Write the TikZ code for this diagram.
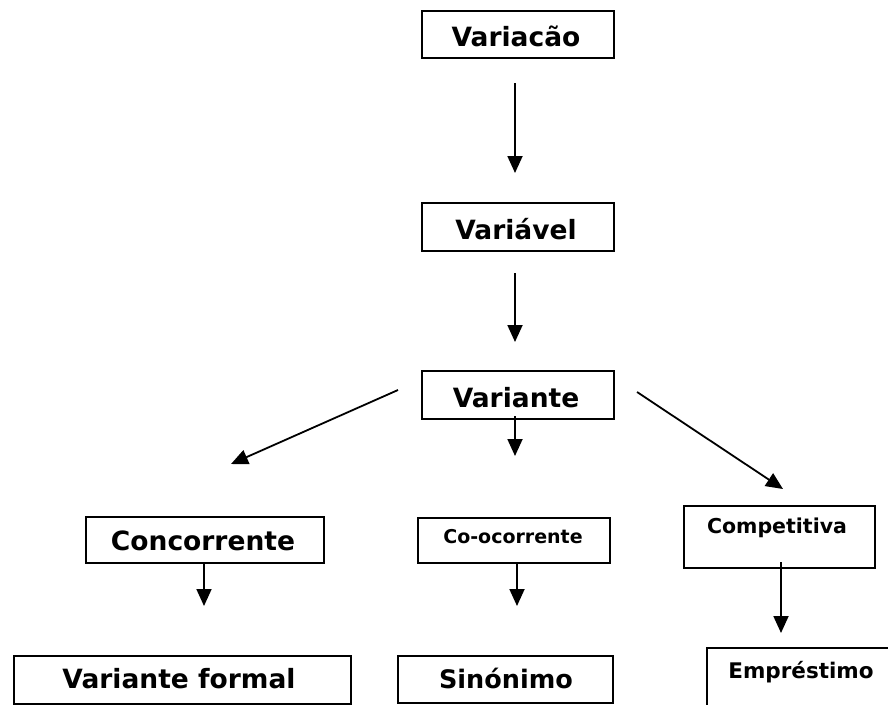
\documentclass[tikz,border=0pt]{standalone}
\usepackage{fontspec}
\setmainfont{DejaVu Sans}
\usetikzlibrary{arrows.meta}
\begin{document}
\begin{tikzpicture}[x=1pt,y=-1pt,
  box/.style={draw,line width=2pt,inner sep=0pt,anchor=north west},
  lbl/.style={anchor=base,inner sep=0pt,font=\bfseries\fontsize{#1}{#1}\selectfont},
  arr/.style={line width=1.8pt,-{Triangle[length=17pt,width=15pt]}}]
\useasboundingbox (0,0) rectangle (888,704);
\clip (0,0) rectangle (888,704);
% boxes
\node[box,minimum width=192pt,minimum height=47pt] (b1) at (421,10) {};
\node[box,minimum width=192pt,minimum height=48pt] (b2) at (421,202) {};
\node[box,minimum width=192pt,minimum height=48pt] (b3) at (421,370) {};
\node[box,minimum width=238pt,minimum height=46pt] (b4) at (85,516) {};
\node[box,minimum width=192pt,minimum height=45pt] (b5) at (417,517) {};
\node[box,minimum width=191pt,minimum height=62pt] (b6) at (683,505) {};
\node[box,minimum width=337pt,minimum height=48pt] (b7) at (13,655) {};
\node[box,minimum width=215pt,minimum height=47pt] (b8) at (397,655) {};
\node[box,minimum width=200pt,minimum height=80pt] (b9) at (706,647) {};
% labels
\node[lbl=26.5] (t1) at (516,46) {Variacão};
\node[lbl=26.5] (t2) at (516,239) {Variável};
\node[lbl=26.5] (t3) at (516,407) {Variante};
\node[lbl=26.5] (t4) at (203,550) {Concorrente};
\node[lbl=19] (t5) at (513,543) {Co-ocorrente};
\node[lbl=20.5] (t6) at (777,533) {Competitiva};
\node[lbl=26.5] (t7) at (179,688) {Variante formal};
\node[lbl=25.5] (t8) at (506,688) {Sinónimo};
\node[lbl=21.5] (t9) at (801,678) {Empréstimo};
% arrow end points
\coordinate (a1s) at (515,83);  \coordinate (a1e) at (515,173);
\coordinate (a2s) at (515,273); \coordinate (a2e) at (515,342);
\coordinate (a3s) at (515,416); \coordinate (a3e) at (515,456);
\coordinate (a4s) at (398,390); \coordinate (a4e) at (231,464);
\coordinate (a5s) at (637,392); \coordinate (a5e) at (783,489);
\coordinate (a6s) at (204,562); \coordinate (a6e) at (204,606);
\coordinate (a7s) at (517,562); \coordinate (a7e) at (517,606);
\coordinate (a8s) at (781,562); \coordinate (a8e) at (781,633);
\draw[arr] (a1s) -- (a1e);
\draw[arr] (a2s) -- (a2e);
\draw[arr] (a3s) -- (a3e);
\draw[arr] (a4s) -- (a4e);
\draw[arr] (a5s) -- (a5e);
\draw[arr] (a6s) -- (a6e);
\draw[arr] (a7s) -- (a7e);
\draw[arr] (a8s) -- (a8e);
\end{tikzpicture}
\end{document}
